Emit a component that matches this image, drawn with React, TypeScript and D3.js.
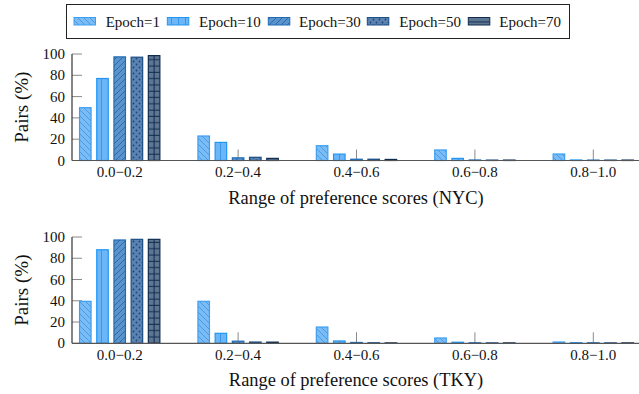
import React from "react";
import * as d3 from "d3";

// Preference-score buckets and training epochs
const categories = ["0.0−0.2", "0.2−0.4", "0.4−0.6", "0.6−0.8", "0.8−1.0"];
const epochs = ["Epoch=1", "Epoch=10", "Epoch=30", "Epoch=50", "Epoch=70"];
const yTicks = [0, 20, 40, 60, 80, 100];

// Share of pairs (%) per bucket, NYC
const nycEpoch1 = [49.6, 23, 13.9, 9.9, 6.1];
const nycEpoch10 = [77, 17, 6, 2, 0.5];
const nycEpoch30 = [97.3, 2.5, 1.2, 0.5, 0.4];
const nycEpoch50 = [97, 3, 1.2, 0.4, 0.4];
const nycEpoch70 = [98.5, 2, 1, 0.4, 0.4];

// Share of pairs (%) per bucket, TKY
const tkyEpoch1 = [39.5, 39.5, 15.3, 5, 1.2];
const tkyEpoch10 = [88, 9.4, 2.2, 1, 0.6];
const tkyEpoch30 = [97.2, 2, 0.8, 0.5, 0.5];
const tkyEpoch50 = [97.8, 1.2, 0.5, 0.4, 0.4];
const tkyEpoch70 = [97.8, 1.1, 0.4, 0.4, 0.4];

const nycSeries = [nycEpoch1, nycEpoch10, nycEpoch30, nycEpoch50, nycEpoch70];
const tkySeries = [tkyEpoch1, tkyEpoch10, tkyEpoch30, tkyEpoch50, tkyEpoch70];

const styles = [
  { fill: "#7cbcf4", stroke: "#3d9ff2", pat: "#3b93e2" },
  { fill: "#6cb5f6", stroke: "#2196f3", pat: "#2a8fe6" },
  { fill: "#5b93cc", stroke: "#1f6cb6", pat: "#1f5f9e" },
  { fill: "#5b83b0", stroke: "#1a4e86", pat: "#1a457a" },
  { fill: "#5e7691", stroke: "#0f2c4f", pat: "#0f2c4f" },
];

const SERIF = "Liberation Serif";
const serif = { fontFamily: SERIF };
const AXIS_X = 72;
const RIGHT = 639;

const x = d3.scaleBand<string>().domain(categories).range([60.5, 652.5]).padding(0);
const xs = d3
  .scaleBand<string>()
  .domain(epochs)
  .range([-43, 43])
  .paddingInner(0.33)
  .paddingOuter(0.165);

function Patterns() {
  return (
    <defs>
      <pattern id="p0" patternUnits="userSpaceOnUse" width="6" height="6">
        <rect width="6" height="6" fill={styles[0].fill} />
        <path d="M-1,-1 L7,7 M-4,2 L2,8 M4,-4 L10,2" stroke={styles[0].pat} strokeWidth="0.8" />
      </pattern>
      <pattern id="p1" patternUnits="userSpaceOnUse" width="7" height="7">
        <rect width="7" height="7" fill={styles[1].fill} />
        <path d="M3.5,0 L3.5,7" stroke={styles[1].pat} strokeWidth="0.8" />
      </pattern>
      <pattern id="p2" patternUnits="userSpaceOnUse" width="6" height="6">
        <rect width="6" height="6" fill={styles[2].fill} />
        <path d="M-1,7 L7,-1 M-4,4 L2,-2 M4,10 L10,4" stroke={styles[2].pat} strokeWidth="0.8" />
      </pattern>
      <pattern id="p3" patternUnits="userSpaceOnUse" width="6" height="6">
        <rect width="6" height="6" fill={styles[3].fill} />
        <circle cx="1.5" cy="1.5" r="0.9" fill={styles[3].pat} />
        <circle cx="4.5" cy="4.5" r="0.9" fill={styles[3].pat} />
      </pattern>
      <pattern id="p4" patternUnits="userSpaceOnUse" width="6.3" height="6.3">
        <rect width="6.3" height="6.3" fill={styles[4].fill} />
        <path d="M0,3 L6.3,3" stroke={styles[4].pat} strokeWidth="1" />
      </pattern>
    </defs>
  );
}

function Bars({ series, y }: { series: number[][]; y: d3.ScaleLinear<number, number> }) {
  const y0 = y(0);
  return (
    <g>
      {series.map((vals, si) =>
        vals.map((v, ci) => {
          const bx = (x(categories[ci]) as number) + x.bandwidth() / 2 + (xs(epochs[si]) as number);
          const bw = xs.bandwidth();
          const by = y(v);
          const h = Math.max(y0 - by, 0.01);
          return (
            <g key={`${si}-${ci}`}>
              <rect
                x={bx}
                y={by}
                width={bw}
                height={h}
                fill={`url(#p${si})`}
                stroke={styles[si].stroke}
                strokeWidth={1.2}
              />
              {si === 4 && h > 3 ? (
                <line x1={bx + bw / 2} x2={bx + bw / 2} y1={by} y2={y0} stroke={styles[4].pat} strokeWidth={1} />
              ) : null}
            </g>
          );
        })
      )}
    </g>
  );
}

function Panel({
  series,
  yTop,
  yBottom,
  title,
}: {
  series: number[][];
  yTop: number;
  yBottom: number;
  title: string;
}) {
  const y = d3.scaleLinear().domain([0, 100]).range([yBottom, yTop]);
  const midY = (yTop + yBottom) / 2;
  return (
    <g>
      {/* y ticks (inward) */}
      {yTicks.map((t) => (
        <g key={t}>
          <line x1={AXIS_X} x2={AXIS_X + 10} y1={y(t)} y2={y(t)} stroke="#8a8a8a" strokeWidth={1} />
          <text x={65} y={y(t) + 5} textAnchor="end" fontFamily={SERIF} style={serif} fontSize={15} fill="#111">
            {t}
          </text>
        </g>
      ))}
      {/* x ticks at bucket centres (inward) */}
      {categories.map((c) => {
        const cx = (x(c) as number) + x.bandwidth() / 2;
        return (
          <g key={c}>
            <line x1={cx} x2={cx} y1={yBottom} y2={yBottom - 11} stroke="#8a8a8a" strokeWidth={1} />
            <text
              x={cx}
              y={yBottom + 16.5}
              textAnchor="middle"
              fontFamily={SERIF}
              style={serif}
              fontSize={15}
              fill="#111"
            >
              {c}
            </text>
          </g>
        );
      })}
      <Bars series={series} y={y} />
      {/* axis lines */}
      <line x1={AXIS_X} x2={AXIS_X} y1={yTop} y2={yBottom} stroke="#333" strokeWidth={1.2} />
      <line x1={AXIS_X} x2={RIGHT} y1={yBottom} y2={yBottom} stroke="#555" strokeWidth={1.2} />
      <text
        transform={`translate(28,${midY}) rotate(-90)`}
        textAnchor="middle"
        fontFamily={SERIF}
        style={serif}
        fontSize={19}
        fill="#111"
      >
        Pairs (%)
      </text>
      <text x={356} y={yBottom + 43} textAnchor="middle" fontFamily={SERIF} style={serif} fontSize={18.4} fill="#111">
        {title}
      </text>
    </g>
  );
}

function Legend() {
  const patchX = [74, 167.3, 268.3, 367.3, 468.3];
  const textX = [105.7, 199, 299, 399.3, 499.3];
  return (
    <g>
      <rect x={66.5} y={4.5} width={503} height={34} fill="white" stroke="#222" strokeWidth={1} />
      {epochs.map((e, i) => (
        <g key={e}>
          <rect
            x={patchX[i]}
            y={17.5}
            width={21.5}
            height={7.5}
            fill={`url(#p${i})`}
            stroke={styles[i].stroke}
            strokeWidth={1}
          />
          <text x={textX[i]} y={27} fontFamily={SERIF} style={serif} fontSize={15} fill="#111">
            {e}
          </text>
        </g>
      ))}
    </g>
  );
}

export default function App() {
  return (
    <svg
      width={639}
      height={394}
      style={{ position: "absolute", left: 0, top: 0, background: "white", fontFamily: SERIF }}
    >
      <Patterns />
      <rect width={639} height={394} fill="white" />
      <Legend />
      <Panel series={nycSeries} yTop={54} yBottom={160.5} title="Range of preference scores (NYC)" />
      <Panel series={tkySeries} yTop={237} yBottom={343.3} title="Range of preference scores (TKY)" />
    </svg>
  );
}
